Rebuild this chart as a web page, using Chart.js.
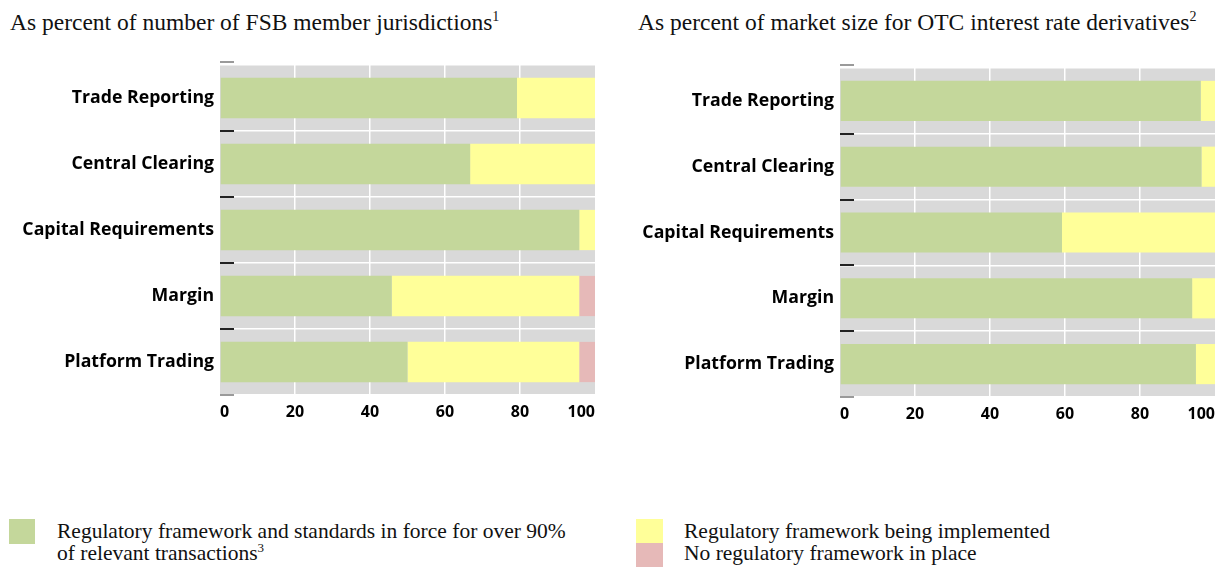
<!DOCTYPE html>
<html>
<head>
<meta charset="utf-8">
<script src="https://cdn.jsdelivr.net/npm/chart.js@4/dist/chart.umd.min.js"></script>
<style>
  body { margin: 0; background: #fff; width: 1220px; height: 570px; position: relative; overflow: hidden; }
  .title { position: absolute; top: 8px; font-family: "Liberation Serif", serif; font-size: 23.5px; line-height: 28px; color: #111; white-space: nowrap; }
  .title sup { font-size: 14px; vertical-align: 9px; line-height: 0; }
  .box { position: absolute; }
  .canvasWrap { position: absolute; top: 40px; height: 390px; }
  .legtext { position: absolute; font-family: "Liberation Serif", serif; font-size: 21.5px; line-height: 22px; color: #111; white-space: nowrap; }
  .legtext sup { font-size: 13px; vertical-align: 8px; line-height: 0; }
</style>
</head>
<body>
<div class="title" style="left:10px">As percent of number of FSB member jurisdictions<sup>1</sup></div>
<div class="title" style="left:638px">As percent of market size for OTC interest rate derivatives<sup>2</sup></div>

<div class="canvasWrap" style="left:0; width:620px"><canvas id="leftChart"></canvas></div>
<div class="canvasWrap" style="left:620px; width:600px"><canvas id="rightChart"></canvas></div>

<div class="box" style="left:9px; top:519px; width:26px; height:25px; background:#c4d79b"></div>
<div class="legtext" style="left:57px; top:520px">Regulatory framework and standards in force for over 90%<br>of relevant transactions<sup>3</sup></div>
<div class="box" style="left:636px; top:519px; width:27px; height:24px; background:#ffff99"></div>
<div class="box" style="left:636px; top:543px; width:27px; height:24px; background:#e6b9b8"></div>
<div class="legtext" style="left:684px; top:520px">Regulatory framework being implemented<br>No regulatory framework in place</div>

<script>
const categories = ["Trade Reporting", "Central Clearing", "Capital Requirements", "Margin", "Platform Trading"];
const xTicks = [0, 20, 40, 60, 80, 100];

// left panel: share of FSB member jurisdictions
const leftInForce = [79.2, 66.7, 95.8, 45.8, 50.0];
const leftImplementing = [20.8, 33.3, 4.2, 50.0, 45.8];
const leftNone = [0, 0, 0, 4.2, 4.2];

// right panel: share of OTC interest rate derivatives market
const rightInForce = [96.2, 96.4, 59.2, 93.9, 94.9];
const rightImplementing = [3.8, 3.6, 40.8, 6.1, 5.1];
const rightNone = [0, 0, 0, 0, 0];

const green = "#c4d79b";
const yellow = "#ffff99";
const pink = "#e6b9b8";

// gray plot background plus the short dark marks on the category boundaries
const plotDecor = {
  id: "plotDecor",
  beforeDraw(chart) {
    const a = chart.chartArea;
    const ctx = chart.ctx;
    ctx.save();
    ctx.fillStyle = "#d9d9d9";
    ctx.fillRect(a.left, a.top, a.right - a.left, a.bottom - a.top);
    ctx.restore();
  },
  afterDatasetsDraw(chart) {
    const a = chart.chartArea;
    const y = chart.scales.y;
    const ctx = chart.ctx;
    ctx.save();
    ctx.lineWidth = 2;
    for (let i = 0; i <= categories.length; i++) {
      let py = Math.round(y.getPixelForValue(i - 0.5));
      const edge = i === 0 || i === categories.length;
      if (i === 0) py -= 3;
      ctx.strokeStyle = edge ? "#9a9a9a" : "#222";
      ctx.beginPath();
      ctx.moveTo(a.left, py);
      ctx.lineTo(a.left + 14, py);
      ctx.stroke();
    }
    ctx.restore();
  }
};

function makeChart(id, inForce, implementing, none, pad, xAxisHeight) {
  return new Chart(document.getElementById(id), {
    type: "bar",
    data: {
      labels: categories,
      datasets: [
        { label: "In force", data: inForce, backgroundColor: green },
        { label: "Being implemented", data: implementing, backgroundColor: yellow },
        { label: "None", data: none, backgroundColor: pink }
      ]
    },
    options: {
      indexAxis: "y",
      responsive: true,
      maintainAspectRatio: false,
      animation: false,
      events: [],
      layout: { padding: pad },
      datasets: { bar: { categoryPercentage: 1, barPercentage: 0.61 } },
      plugins: { legend: { display: false }, tooltip: { enabled: false } },
      scales: {
        x: {
          stacked: true,
          min: 0,
          max: 100,
          afterBuildTicks: s => { s.ticks = xTicks.map(v => ({ value: v })); },
          afterFit: s => { s.height = xAxisHeight; s.paddingLeft = 0; s.paddingRight = 0; },
          border: { display: false },
          grid: {
            drawTicks: false,
            lineWidth: 1.5,
            color: c => (c.tick && (c.tick.value === 0 || c.tick.value === 100)) ? "rgba(0,0,0,0)" : "#ffffff"
          },
          ticks: {
            align: "inner",
            padding: 8,
            color: "#000",
            font: { family: "Open Sans", size: 16, weight: "700" }
          }
        },
        y: {
          stacked: true,
          afterFit: s => { s.width = 220; },
          border: { display: false },
          grid: { drawTicks: false, lineWidth: 1.5, color: "#ffffff", offset: true },
          ticks: {
            padding: 6,
            color: "#000",
            font: { family: "Open Sans", size: 17.7, weight: "700" }
          }
        }
      }
    },
    plugins: [plotDecor]
  });
}

makeChart("leftChart", leftInForce, leftImplementing, leftNone, { top: 25, right: 25, bottom: 0, left: 0 }, 35);
makeChart("rightChart", rightInForce, rightImplementing, rightNone, { top: 28, right: 5, bottom: 0, left: 0 }, 33);
</script>
</body>
</html>
